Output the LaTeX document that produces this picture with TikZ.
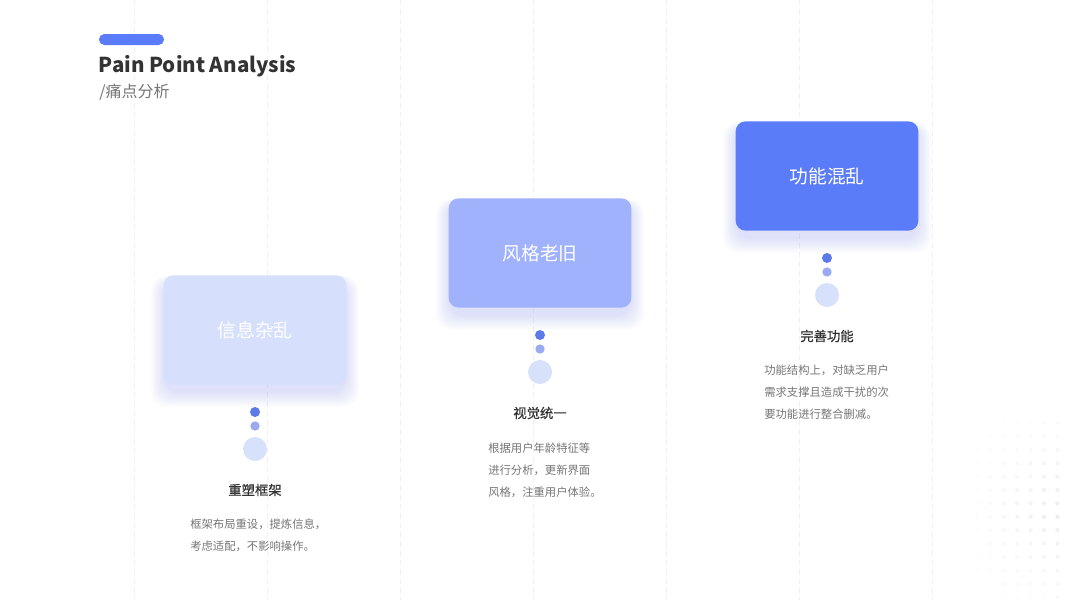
\documentclass[tikz,border=0pt]{standalone}
\usepackage{fontspec}
\setmainfont{Noto Sans CJK SC}
\newfontfamily\mediumfont{Noto Sans CJK SC}[FakeBold=0.6]
\usetikzlibrary{positioning,calc}
\definecolor{mainblue}{RGB}{91,124,249}
\definecolor{midblue}{RGB}{160,178,252}
\definecolor{paleblue}{RGB}{214,224,253}
\definecolor{dotdark}{RGB}{92,122,232}
\definecolor{dotmid}{RGB}{154,170,242}
\definecolor{dotpale}{RGB}{216,225,251}
\definecolor{textdark}{RGB}{51,51,51}
\definecolor{textgray}{RGB}{118,118,118}
\definecolor{gridline}{RGB}{240,240,242}

% soft shadow under a card centred at (#1,#2)
\newcommand{\cardshadow}[2]{%
  \foreach \k in {0,...,9}
    \fill[mainblue, opacity=0.018, rounded corners=12pt]
      ($(#1,#2)+(-91.5-\k*1.4,-54.5+5-\k*0.5)$) rectangle ($(#1,#2)+(91.5+\k*1.4,54.5+8+\k*1.6)$);
}

\begin{document}
\begin{tikzpicture}[x=0.75pt,y=-0.75pt,
    card/.style={rounded corners=7.5pt, minimum width=137pt, minimum height=82pt, text=white, font=\fontsize{14}{16}\selectfont},
    dotA/.style={circle, fill=dotdark, minimum size=7.5pt, inner sep=0pt},
    dotB/.style={circle, fill=dotmid, minimum size=7pt, inner sep=0pt},
    dotC/.style={circle, fill=dotpale, minimum size=18pt, inner sep=0pt},
    head/.style={font=\mediumfont\fontsize{10}{12}\selectfont, text=textdark},
    desc/.style={font=\fontsize{8.5}{16.5}\selectfont, text=textgray, align=left, anchor=north west, inner sep=0pt}
]
    \useasboundingbox (0,0) rectangle (1067,600);
    \fill[white] (0,0) rectangle (1067,600);

    % dashed guides
    \foreach \gx in {134,267,400,533,666,799,932}
        \draw[gridline, dash pattern=on 4pt off 3pt, line width=0.7pt] (\gx,0) -- (\gx,600);

    % faint dot field, bottom right
    \foreach \i in {0,...,6}
        \foreach \j in {0,...,13}{
            \pgfmathsetmacro\op{max(0,(\i+1)/7*(1-abs(\j-6.5)/8))*0.35}
            \fill[gray!40, opacity=\op] (977+13.4*\i,423+13.4*\j) circle (1.6pt);
        }

    % title
    \fill[mainblue, rounded corners=4pt] (99,34) rectangle (164,45);
    \node[anchor=base west, inner sep=0pt, font=\bfseries\fontsize{15.4}{18}\selectfont, text=textdark] (title) at (98.5,72.5) {Pain Point Analysis};
    \node[anchor=base west, inner sep=0pt, font=\fontsize{12}{14}\selectfont, text=textgray] (subtitle) at (99,97) {/痛点分析};

    % cards
    \cardshadow{255}{330}
    \cardshadow{540}{253}
    \cardshadow{827}{176}
    \node[card, fill=paleblue] (box1) at (255,330) {信息杂乱};
    \node[card, fill=midblue] (box2) at (540,253) {风格老旧};
    \node[card, fill=mainblue] (box3) at (827,176) {功能混乱};

    % dots
    \node[dotA] (d1a) at (255,412) {};
    \node[dotB] (d1b) at (255,426) {};
    \node[dotC] (d1c) at (255,449) {};
    \node[dotA] (d2a) at (540,335) {};
    \node[dotB] (d2b) at (540,349) {};
    \node[dotC] (d2c) at (540,372) {};
    \node[dotA] (d3a) at (827,258) {};
    \node[dotB] (d3b) at (827,272) {};
    \node[dotC] (d3c) at (827,295) {};

    % headings and notes
    \node[head] (h1) at (255,490) {重塑框架};
    \node[head] (h2) at (540,413) {视觉统一};
    \node[head] (h3) at (827,336) {完善功能};
    \node[desc] (t1) at (190,519) {框架布局重设，提炼信息，\\考虑适配，不影响操作。};
    \node[desc] (t2) at (488,443) {根据用户年龄特征等\\进行分析，更新界面\\风格，注重用户体验。};
    \node[desc] (t3) at (764,365) {功能结构上，对缺乏用户\\需求支撑且造成干扰的次\\要功能进行整合删减。};
\end{tikzpicture}
\end{document}
